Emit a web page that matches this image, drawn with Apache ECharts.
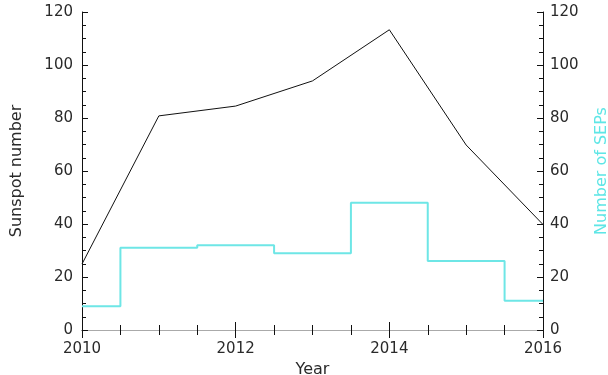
<!DOCTYPE html>
<html>
<head>
<meta charset="utf-8">
<script src="https://cdn.jsdelivr.net/npm/echarts@6/dist/echarts.min.js"></script>
<style>html,body{margin:0;padding:0;background:#fff}#c{width:608px;height:375px}</style>
</head>
<body>
<div id="c"></div>
<script>
var years = [2010, 2011, 2012, 2013, 2014, 2015, 2016];
var sunspot = [24.9, 80.8, 84.5, 94.0, 113.3, 69.8, 39.8];
var seps = [9, 31, 32, 29, 48, 26, 11];

var chart = echarts.init(document.getElementById('c'), null, {renderer: 'canvas'});
var font = 'DejaVu Sans';
var txt = '#2a2a2a';
function pairs(xs, ys) { return xs.map(function (x, i) { return [x, ys[i]]; }); }

chart.setOption({
  animation: false,
  backgroundColor: '#fff',
  grid: {left: 82, right: 65, top: 12, bottom: 45, containLabel: false, outerBoundsMode: 'none'},
  xAxis: [{
    type: 'value', min: 2010, max: 2016, interval: 2, position: 'bottom',
    name: 'Year', nameLocation: 'middle', nameGap: 26,
    nameTextStyle: {color: txt, fontSize: 16, fontFamily: font},
    axisLine: {lineStyle: {color: '#111', width: 1}},
    axisTick: {inside: true, length: 8, lineStyle: {color: '#111'}},
    minorTick: {show: true, splitNumber: 4, length: 5, lineStyle: {color: '#111'}},
    axisLabel: {color: txt, fontSize: 15, fontFamily: font, margin: 12, formatter: function (v) { return String(v); }},
    splitLine: {show: false}
  }, {
    type: 'value', min: 2010, max: 2016, interval: 2, position: 'top',
    axisLine: {lineStyle: {color: '#aaa', width: 1}},
    axisTick: {inside: true, length: 8, lineStyle: {color: '#111'}},
    minorTick: {show: true, splitNumber: 4, length: 5, lineStyle: {color: '#111'}},
    axisLabel: {show: false},
    splitLine: {show: false}
  }],
  yAxis: [{
    type: 'value', min: 0, max: 120, interval: 20, position: 'left',
    name: 'Sunspot number', nameLocation: 'middle', nameGap: 57, nameRotate: 90,
    nameTextStyle: {color: txt, fontSize: 16, fontFamily: font},
    axisLine: {show: true, lineStyle: {color: '#111', width: 1}},
    axisTick: {show: true, inside: true, length: 6, lineStyle: {color: '#111'}},
    minorTick: {show: true, splitNumber: 4, length: 4, lineStyle: {color: '#111'}},
    axisLabel: {color: txt, fontSize: 15, fontFamily: font, margin: 9},
    splitLine: {show: false}
  }, {
    type: 'value', min: 0, max: 120, interval: 20, position: 'right',
    name: 'Number of SEPs', nameLocation: 'middle', nameGap: 51, nameRotate: 90,
    nameTextStyle: {color: '#5ee6e6', fontSize: 16, fontFamily: font},
    axisLine: {show: true, lineStyle: {color: '#111', width: 1}},
    axisTick: {show: true, inside: true, length: 6, lineStyle: {color: '#111'}},
    minorTick: {show: true, splitNumber: 4, length: 4, lineStyle: {color: '#111'}},
    axisLabel: {color: txt, fontSize: 15, fontFamily: font, margin: 7},
    splitLine: {show: false}
  }],
  series: [{
    name: 'Sunspot number', type: 'line', xAxisIndex: 0, yAxisIndex: 0,
    data: pairs(years, sunspot), showSymbol: false, symbol: 'none',
    lineStyle: {color: '#111', width: 1}
  }, {
    name: 'Number of SEPs', type: 'line', xAxisIndex: 0, yAxisIndex: 1,
    step: 'middle', data: pairs(years, seps), showSymbol: false, symbol: 'none',
    lineStyle: {color: '#6ee6e6', width: 2}
  }]
});
</script>
</body>
</html>
